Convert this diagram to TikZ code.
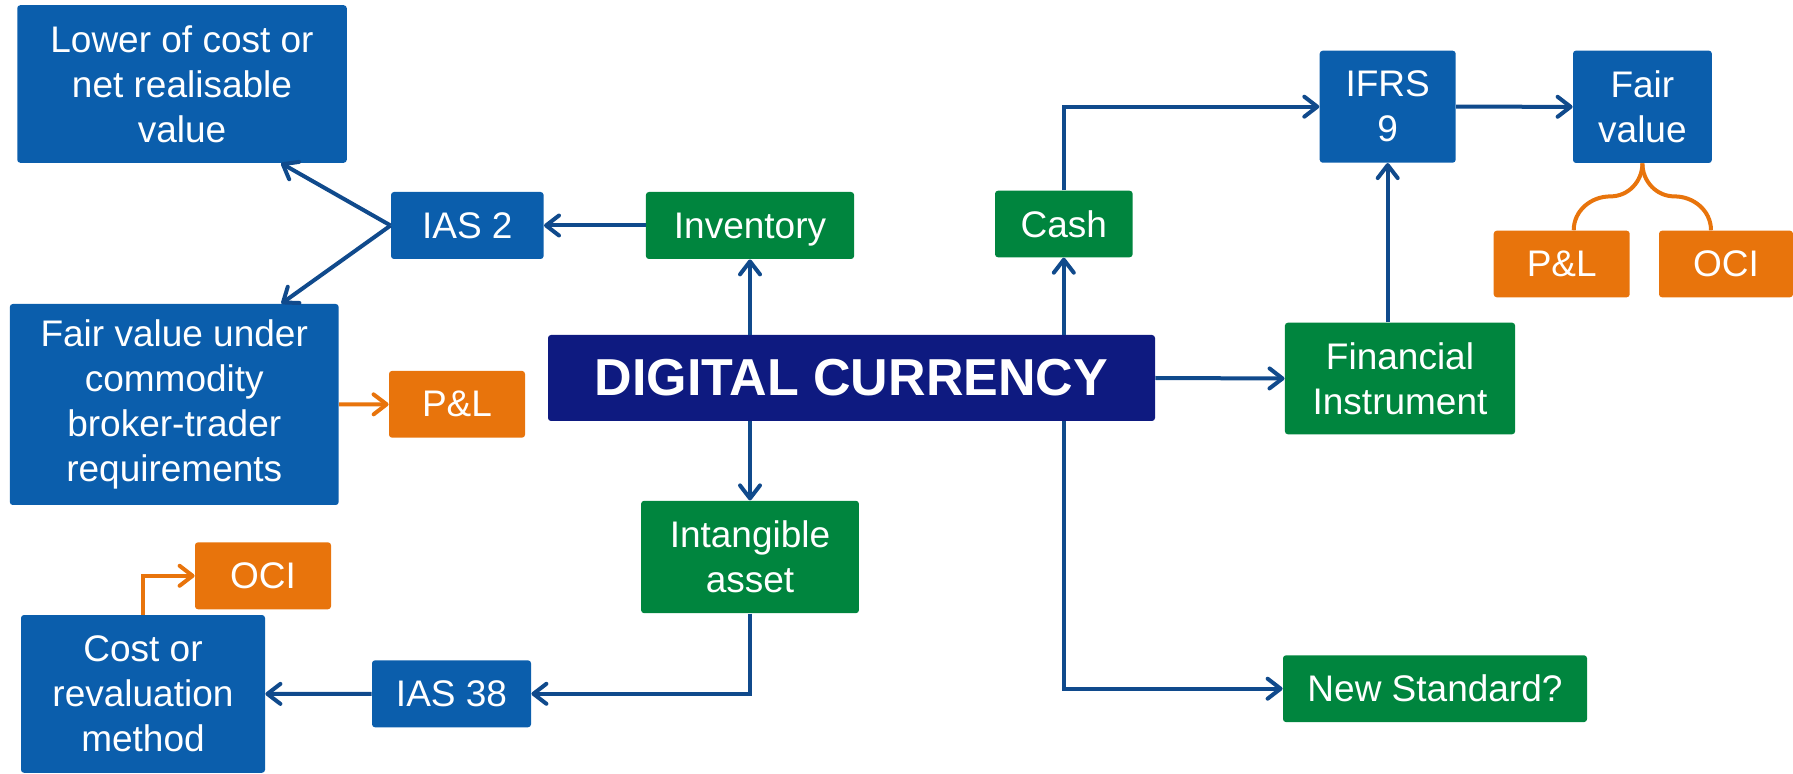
\documentclass[tikz,border=0pt]{standalone}
\usepackage{fontspec}
\setmainfont{Liberation Sans}
\usetikzlibrary{arrows.meta,calc,positioning}

\definecolor{stdblue}{RGB}{11,94,172}
\definecolor{itemgreen}{RGB}{0,133,62}
\definecolor{resorange}{RGB}{232,116,12}
\definecolor{corenavy}{RGB}{14,26,128}
\definecolor{linkblue}{RGB}{16,74,140}

\begin{document}
\begin{tikzpicture}[x=0.5pt,y=-0.5pt,
  box/.style={rectangle, rounded corners=1.5pt, text=white, align=center, inner sep=0pt,
    font=\fontsize{18.5}{22.5}\selectfont},
  stdbox/.style={box, fill=stdblue},
  itembox/.style={box, fill=itemgreen},
  resbox/.style={box, fill=resorange},
  link/.style={draw=linkblue, line width=2pt, -{Straight Barb[length=6.5pt,width=10pt,round]}},
  olink/.style={link, draw=resorange},
  brace/.style={draw=resorange, line width=2pt}]
\useasboundingbox (0,0) rectangle (1793,774);

% left branch
\draw (182,84)      node (lower) [stdbox, minimum width=164.75pt, minimum height=78.8pt] {Lower of cost or\\net realisable\\value};
\draw (467.3,225.5) node (ias2)  [stdbox, minimum width=76.3pt, minimum height=33.5pt] {IAS 2};
\draw (750,225.5)   node (inv)   [itembox, minimum width=104.1pt, minimum height=33.5pt, text depth=0pt] {Inventory};
\draw (174.25,404.5) node (fvu)  [stdbox, minimum width=164.45pt, minimum height=100.5pt] {Fair value under\\commodity\\broker-trader\\requirements};
\draw (457,404.3)   node (pl1)   [resbox, minimum width=68pt, minimum height=33.4pt] {P\&L};

\draw (851.5,378)   node (dc)    [box, fill=corenavy, minimum width=303.5pt, minimum height=43pt,
                                  font=\bfseries\fontsize{26}{30}\selectfont] {DIGITAL CURRENCY};

\draw (750,557)     node (int)   [itembox, minimum width=108.9pt, minimum height=56.2pt] {Intangible\\asset};
\draw (263,575.8)   node (oci1)  [resbox, minimum width=68pt, minimum height=33.5pt] {OCI};
\draw (143,693.9)   node (cost)  [stdbox, minimum width=122pt, minimum height=78.9pt] {Cost or\\revaluation\\method};
\draw (451.5,693.8) node (ias38) [stdbox, minimum width=79.5pt, minimum height=33.5pt] {IAS 38};

% right branch
\draw (1063.8,224)  node (cash)  [itembox, minimum width=68.8pt, minimum height=33.3pt] {Cash};
\draw (1387.7,106.7) node (ifrs) [stdbox, minimum width=68pt, minimum height=56pt] {IFRS\\9};
\draw (1642.4,106.8) node (fv)   [stdbox, minimum width=69.4pt, minimum height=56.2pt] {Fair\\value};
\draw (1561.7,264)  node (pl2)   [resbox, minimum width=68pt, minimum height=33.3pt] {P\&L};
\draw (1726,264)    node (oci2)  [resbox, minimum width=67pt, minimum height=33.3pt] {OCI};
\draw (1400,378.5)  node (fi)    [itembox, minimum width=115.1pt, minimum height=55.8pt] {Financial\\Instrument};
\draw (1435,688.7)  node (ns)    [itembox, minimum width=152pt, minimum height=33.4pt] {New Standard?};

\draw[link] (inv.west) -- (ias2.east);
\draw[link] (ias2.west) -- ($(lower.south)!0.6!(lower.south east)$);
\draw[link] (ias2.west) -- ($(fvu.north)!0.65!(fvu.north east)$);
\draw[olink] (fvu.east) -- (pl1.west);
\draw[link] (inv.south |- dc.north) -- (inv.south);
\draw[link] (int.north |- dc.south) -- (int.north);
\draw[link] (int.south) |- (ias38.east);
\draw[link] (ias38.west) -- (cost.east);
\draw[olink] (cost.north) |- (oci1.west);

\draw[link] (cash.south |- dc.north) -- (cash.south);
\draw[link] (cash.north) |- (ifrs.west);
\draw[link] (ifrs.east) -- (fv.west);
\draw[link] (ifrs.south |- fi.north) -- (ifrs.south);
\draw[link] (dc.east) -- (fi.west);
\draw[link] (cash.south |- dc.south) |- (ns.west);

% fair value splits into P&L and OCI
\draw[brace] (fv.south) to[out=-90,in=0] ++(-32,33) to[out=180,in=90] ($(pl2.north)+(12,0)$);
\draw[brace] (fv.south) to[out=-90,in=180] ++(32,33) to[out=0,in=90] ($(oci2.north)+(-15,0)$);
\end{tikzpicture}
\end{document}
